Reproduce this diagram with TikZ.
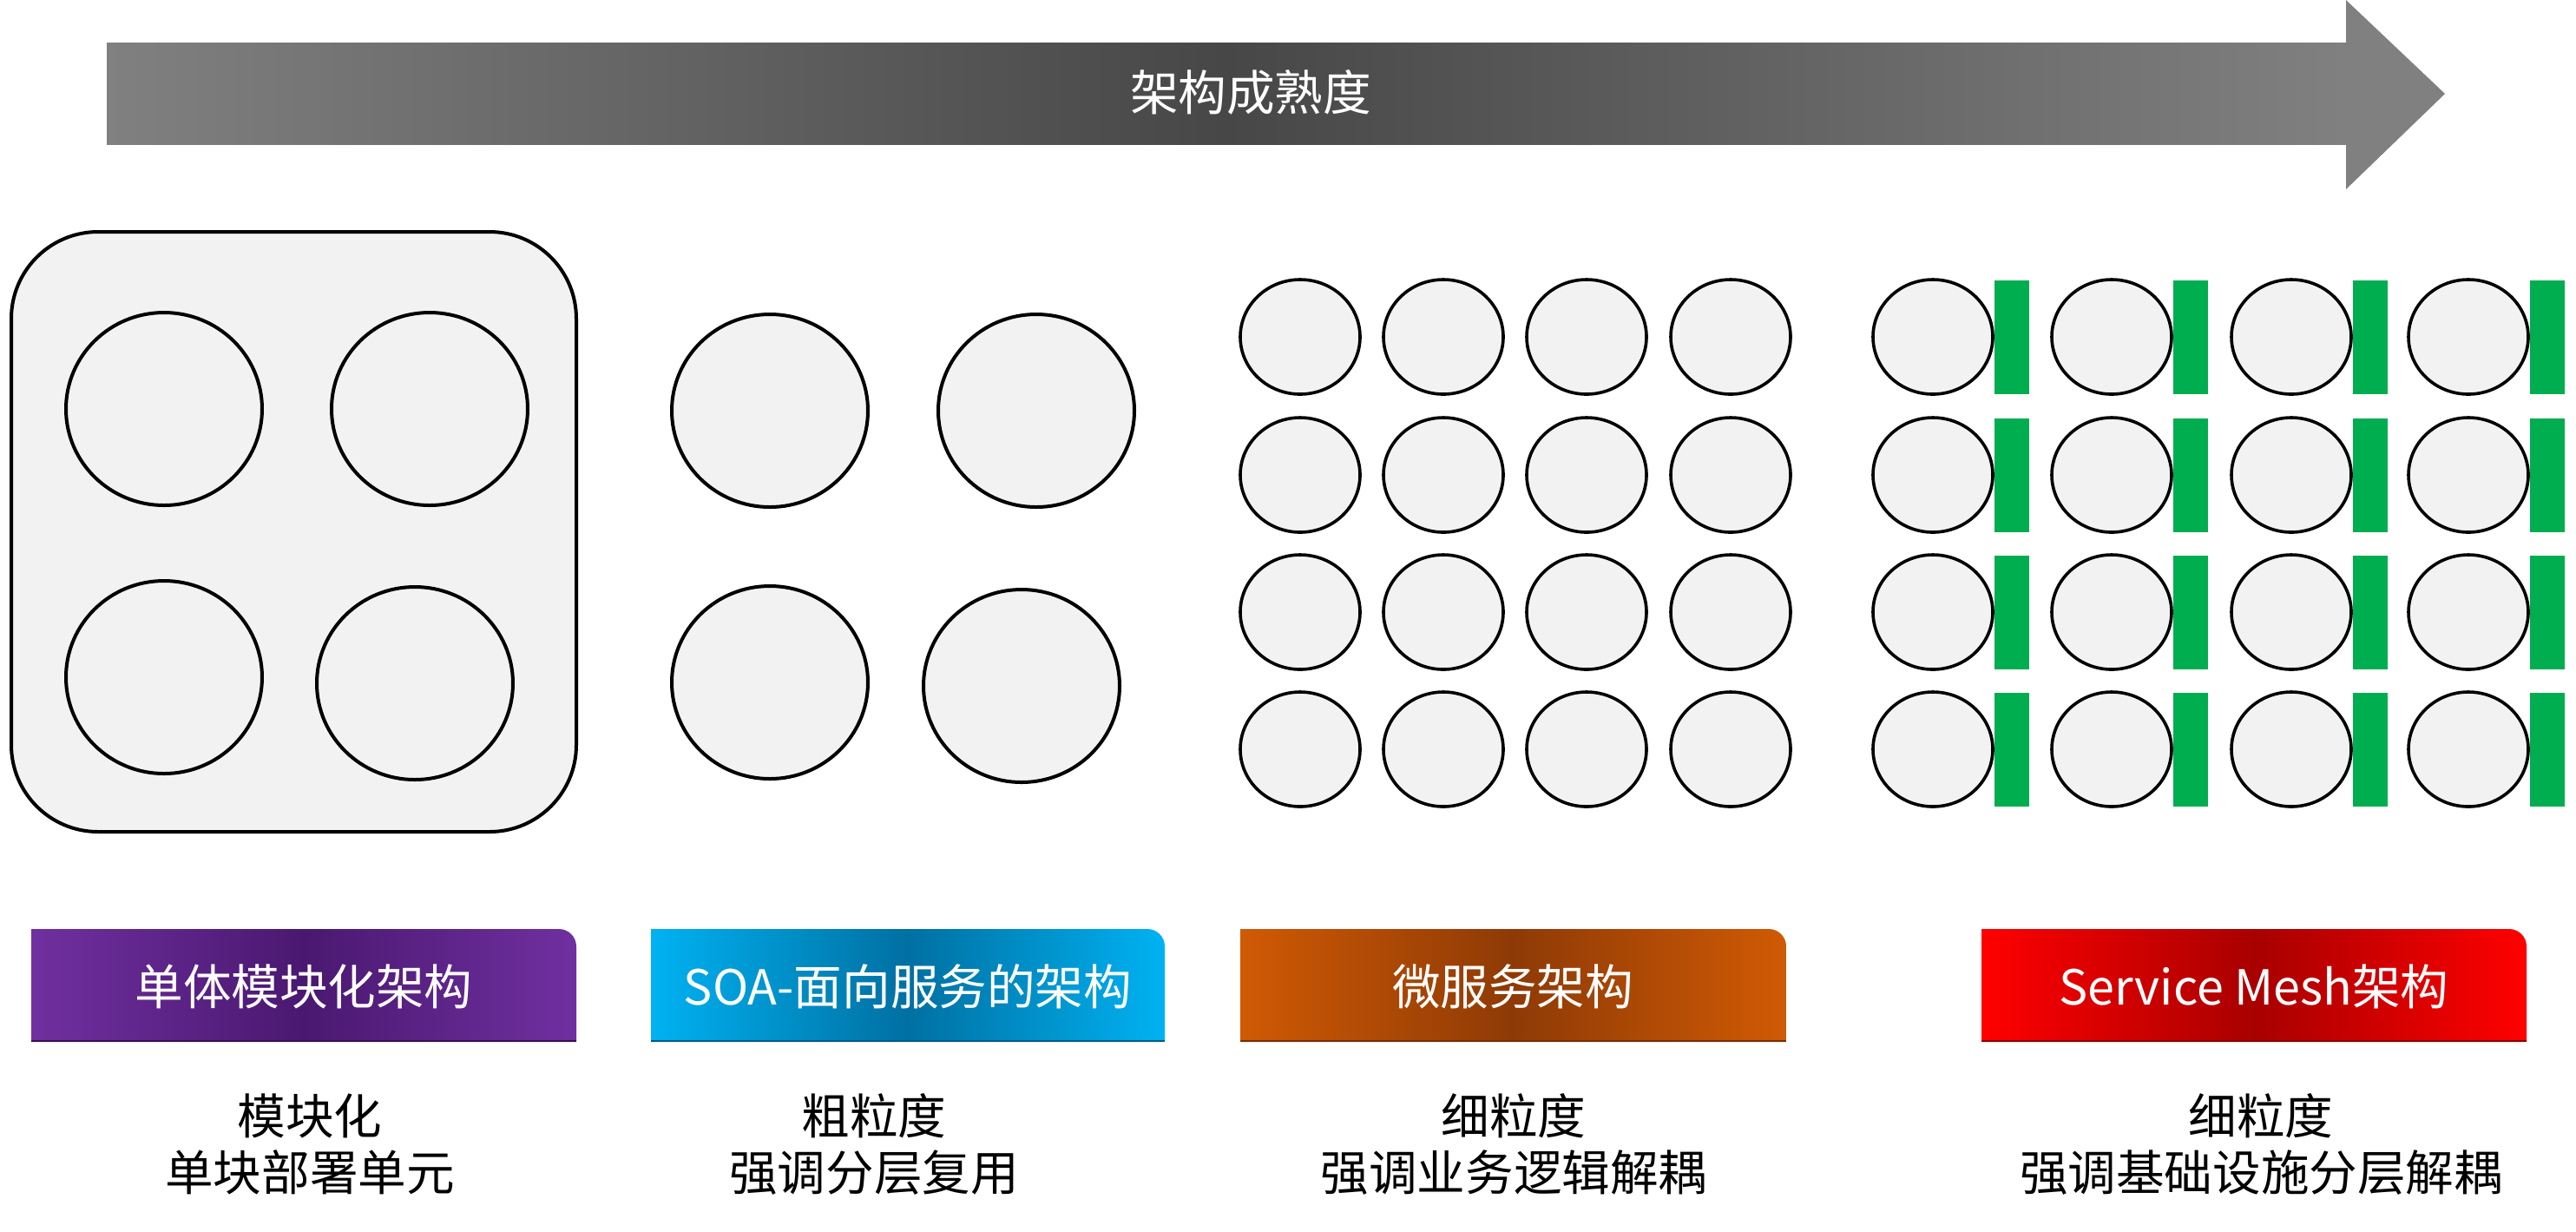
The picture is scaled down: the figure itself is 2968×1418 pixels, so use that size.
\documentclass[tikz,border=0pt]{standalone}
\usepackage{fontspec}
\setmainfont{Noto Sans CJK SC}
\usetikzlibrary{shapes.geometric}
\definecolor{cfill}{HTML}{F2F2F2}
\definecolor{arrowL}{HTML}{808080}
\definecolor{arrowM}{HTML}{474747}
\definecolor{meshgreen}{HTML}{00AD4F}
\definecolor{purL}{HTML}{7030A0}
\definecolor{purM}{HTML}{4A1870}
\definecolor{bluL}{HTML}{00B2F2}
\definecolor{bluM}{HTML}{0070A2}
\definecolor{ornL}{HTML}{D05A04}
\definecolor{ornM}{HTML}{8E3A06}
\definecolor{redL}{HTML}{FF0000}
\definecolor{redM}{HTML}{A80000}
\begin{document}
\begin{tikzpicture}[x=0.25pt,y=0.25pt,
  svc/.style={ellipse, draw=black, line width=1pt, fill=cfill, inner sep=0pt, outer sep=0pt},
  bigsvc/.style={svc, minimum width=56.5pt, minimum height=55.5pt},
  smallsvc/.style={svc, line width=0.9pt, minimum width=34.5pt, minimum height=33pt},
  sidecar/.style={fill=meshgreen, draw=none, inner sep=0pt, outer sep=0pt, minimum width=10pt, minimum height=32.75pt, anchor=west},
  lbl/.style={text=white, inner sep=0pt, font=\fontsize{13.9pt}{16pt}\selectfont},
  desc/.style={text=black, align=center, inner sep=0pt, font=\fontsize{13.9pt}{16.25pt}\selectfont}]
\useasboundingbox (0,0) rectangle (2968,-1418);

% maturity arrow
\shade[left color=arrowL, right color=arrowL, middle color=arrowM] (123,-49) rectangle (2703,-166);
\fill[arrowL] (2703,0) -- (2817,-108) -- (2703,-218) -- cycle;
\node[lbl] (maturity) at (1441,-106) {架构成熟度};

% monolith
\node[draw=black, line width=1pt, fill=cfill, rounded corners=25pt, minimum width=162.75pt, minimum height=172.75pt, inner sep=0pt] (mono) at (338.5,-612.5) {};
\node[bigsvc] (m1) at (189,-471) {};
\node[bigsvc] (m2) at (495,-471) {};
\node[bigsvc] (m3) at (189,-780) {};
\node[bigsvc] (m4) at (478,-787) {};

% SOA
\node[bigsvc] (s1) at (887,-473) {};
\node[bigsvc] (s2) at (1194,-473) {};
\node[bigsvc] (s3) at (887,-786) {};
\node[bigsvc] (s4) at (1177,-790) {};

% microservices
\foreach \c/\x in {1/1498,2/1663,3/1828,4/1994}{
  \foreach \r/\y in {1/388,2/547,3/705,4/863}{
    \node[smallsvc] (u\r\c) at (\x,-\y) {};
  }
}

% service mesh
\foreach \c/\x in {1/2227,2/2433,3/2640,4/2844}{
  \foreach \r/\y in {1/388,2/547,3/705,4/863}{
    \node[smallsvc] (e\r\c) at (\x,-\y) {};
    \node[sidecar] (p\r\c) at ([xshift=0.5pt]e\r\c.east) {};
  }
}

% label bars
\shade[left color=purL, right color=purL, middle color=purM] (36,-1200) -- (36,-1070) -- (644,-1070) arc[start angle=90, end angle=0, radius=20] -- (664,-1200) -- cycle;
\draw[purM!70!black, line width=0.6pt] (36,-1199) -- (664,-1199);
\node[lbl] (t1) at (350,-1136) {单体模块化架构};

\shade[left color=bluL, right color=bluL, middle color=bluM] (750,-1200) -- (750,-1070) -- (1322,-1070) arc[start angle=90, end angle=0, radius=20] -- (1342,-1200) -- cycle;
\draw[bluM!80!black, line width=0.6pt] (750,-1199) -- (1342,-1199);
\node[lbl] (t2) at (1046,-1136) {SOA-面向服务的架构};

\shade[left color=ornL, right color=ornL, middle color=ornM] (1429,-1200) -- (1429,-1070) -- (2038,-1070) arc[start angle=90, end angle=0, radius=20] -- (2058,-1200) -- cycle;
\draw[ornM!80!black, line width=0.6pt] (1429,-1199) -- (2058,-1199);
\node[lbl] (t3) at (1743,-1136) {微服务架构};

\shade[left color=redL, right color=redL, middle color=redM] (2283,-1200) -- (2283,-1070) -- (2891,-1070) arc[start angle=90, end angle=0, radius=20] -- (2911,-1200) -- cycle;
\draw[redM!80!black, line width=0.6pt] (2283,-1199) -- (2911,-1199);
\node[lbl] (t4) at (2597,-1136) {Service Mesh架构};

% descriptions
\node[desc] (d1) at (357,-1318) {模块化\\单块部署单元};
\node[desc] (d2) at (1007,-1318) {粗粒度\\强调分层复用};
\node[desc] (d3) at (1744,-1318) {细粒度\\强调业务逻辑解耦};
\node[desc] (d4) at (2605,-1318) {细粒度\\强调基础设施分层解耦};
\end{tikzpicture}
\end{document}
